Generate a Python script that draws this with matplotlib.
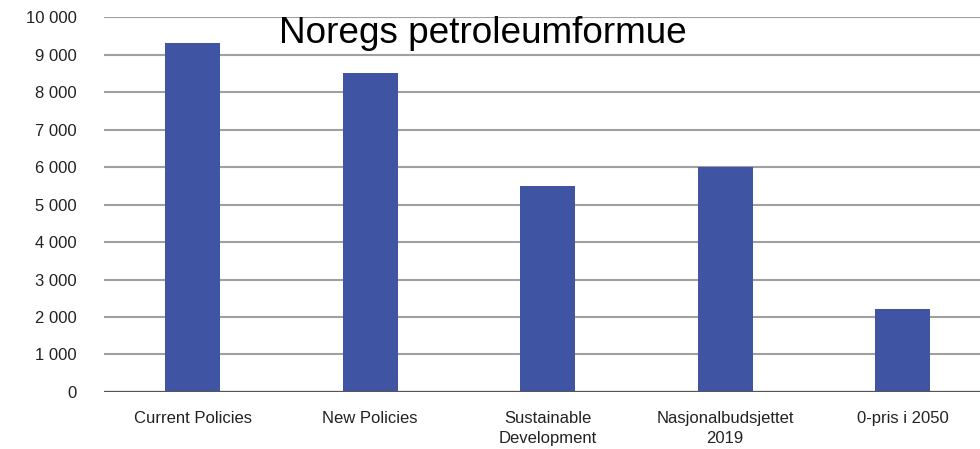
import matplotlib.pyplot as plt

# Noregs petroleumformue, scenario values (mrd. kr)
categories = ["Current Policies", "New Policies", "Sustainable\nDevelopment",
              "Nasjonalbudsjettet\n2019", "0-pris i 2050"]
values = [9300, 8500, 5500, 6000, 2200]
yticks = [0, 1000, 2000, 3000, 4000, 5000, 6000, 7000, 8000, 9000, 10000]
ytick_labels = ["0", "1 000", "2 000", "3 000", "4 000", "5 000",
                "6 000", "7 000", "8 000", "9 000", "10 000"]

plt.rcParams["font.family"] = ["Liberation Sans", "DejaVu Sans"]

fig = plt.figure(figsize=(9.8, 4.49), dpi=100)
ax = fig.add_axes([0.1061, 0.127, 0.9056, 0.835])

x = range(len(categories))
ax.bar(x, values, width=0.31, color="#3F55A3", zorder=3)

ax.set_xlim(-0.5, len(categories) - 0.5)
ax.set_ylim(0, 10000)
ax.set_yticks(yticks)
ax.set_yticklabels(ytick_labels)
ax.set_xticks(list(x))
ax.set_xticklabels(categories, linespacing=1.35)

ax.grid(axis="y", color="#a0a0a0", linewidth=1.5, zorder=0)
ax.axhline(0, color="#555555", linewidth=1.6, zorder=4)
for s in ax.spines.values():
    s.set_visible(False)
ax.tick_params(axis="both", length=0, labelsize=12, colors="#222222")
ax.tick_params(axis="y", pad=19.5)
ax.tick_params(axis="x", pad=14)

fig.text(0.493, 0.904, "Noregs petroleumformue", fontsize=26.6,
         ha="center", va="baseline", color="black")

plt.savefig("out.png", dpi=100)
